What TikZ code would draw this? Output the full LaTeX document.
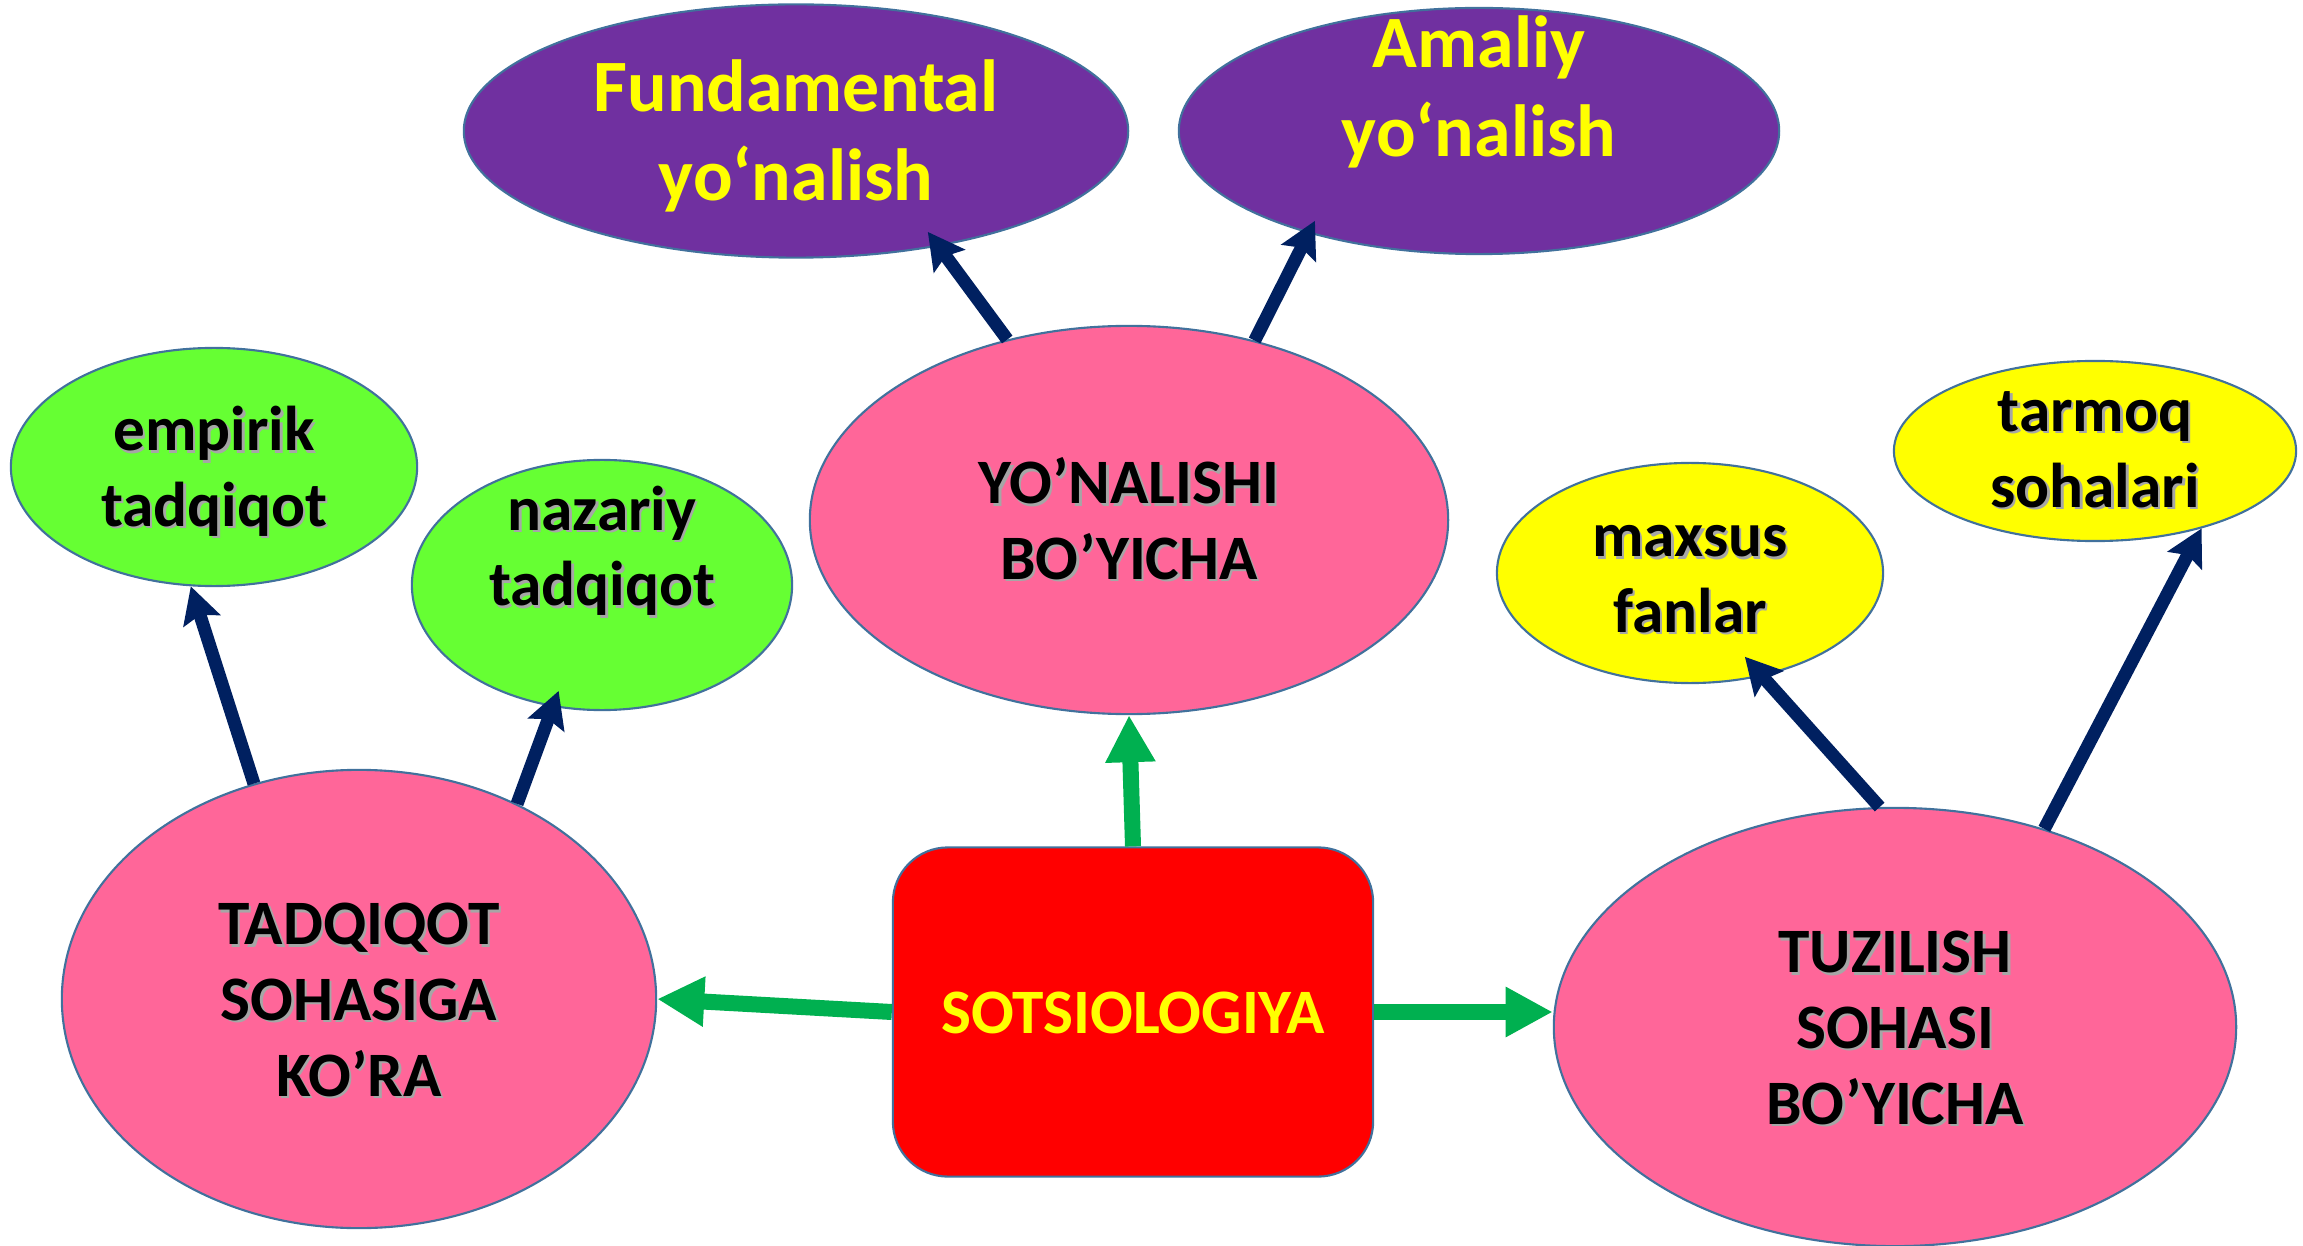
\documentclass[tikz,border=0pt]{standalone}
\usepackage{fontspec}
\setmainfont{Carlito}
\usetikzlibrary{arrows.meta,shapes.geometric}
\definecolor{figpink}{HTML}{FF6699}
\definecolor{figpurple}{HTML}{7030A0}
\definecolor{figlime}{HTML}{66FF33}
\definecolor{figyellow}{HTML}{FFFF00}
\definecolor{figred}{HTML}{FF0000}
\definecolor{figborder}{HTML}{41719C}
\definecolor{fignavy}{HTML}{002060}
\definecolor{figgreen}{HTML}{00B050}
\def\figborderwidth{0.6pt}
\def\figfont{\fontsize{18}{21.6}\selectfont\bfseries}
\def\figbigfont{\fontsize{21}{25.3}\selectfont\bfseries}
% full line box (ascent / descent) on the first and last line
\newcommand\figtop{\rule{0pt}{0.95em}}
\newcommand\figbot{\rule[-0.27em]{0pt}{0pt}}
% black text with a soft drop shadow
\newcommand\figshadow[1]{\leavevmode\rlap{\kern0.7pt\raisebox{-0.7pt}{\color{black!35}#1}}#1}

\begin{document}
\begin{tikzpicture}[
  x=0.01cm,y=-0.01cm,
  oval/.style={ellipse,draw=figborder,line width=\figborderwidth,inner sep=0pt,align=center,font=\figfont},
  topic/.style={oval,fill=figpink},
  purplebox/.style={oval,fill=figpurple,text=figyellow,font=\figbigfont},
  limebox/.style={oval,fill=figlime},
  yellowbox/.style={oval,fill=figyellow},
  navyarrow/.style={draw=fignavy,line width=0.13cm,-{Stealth[length=0.36cm,width=0.38cm,inset=0.06cm]}},
  greenarrow/.style={draw=figgreen,line width=0.16cm,-{Triangle[length=0.47cm,width=0.47cm]}},
]
\useasboundingbox (0,0) rectangle (2303,1246);

%%%%%%%%%%%%%%%
% Centre
%%%%%%%%%%%%%%%
\node (sots) [
  draw=figborder,line width=\figborderwidth,fill=figred,
  rounded corners=0.55cm,minimum width=4.8cm,minimum height=3.29cm,
  text=figyellow,font=\figfont
] at (1133,1012) {\figtop SOTSIOLOGIYA\figbot};

\node (yon) [topic,minimum width=6.38cm,minimum height=3.88cm] at (1129,520) {\figtop\figshadow{YO’NALISHI}\\\figshadow{BO’YICHA}\figbot};
\node (tad) [topic,minimum width=5.94cm,minimum height=4.58cm] at (359,999) {\figtop\figshadow{TADQIQOT}\\\figshadow{SOHASIGA}\\\figshadow{KO’RA}\figbot};
\node (tuz) [topic,minimum width=6.82cm,minimum height=4.38cm] at (1895,1027) {\figtop\figshadow{TUZILISH}\\\figshadow{SOHASI}\\\figshadow{BO’YICHA}\figbot};

%%%%%%%%%%%%%%%
% Top
%%%%%%%%%%%%%%%
\node (fund) [purplebox,minimum width=6.64cm,minimum height=2.5cm] at (796,131) {\figtop Fundamental\\yo‘nalish\figbot};
\node (amal) [
  purplebox,minimum width=6.0cm,minimum height=2.46cm,
  label={[font=\figbigfont,text=figyellow,align=center,yshift=0.44cm]center:{\figtop Amaliy\\yo‘nalish\figbot}} % text sits high in the oval
] at (1479,131) {};

%%%%%%%%%%%%%%%
% Left
%%%%%%%%%%%%%%%
\node (emp) [limebox,minimum width=4.06cm,minimum height=2.38cm] at (214,467) {\figtop\figshadow{empirik}\\\figshadow{tadqiqot}\figbot};
\node (naz) [
  limebox,minimum width=3.8cm,minimum height=2.5cm,
  label={[font=\figfont,align=center,yshift=0.385cm]center:{\figtop\figshadow{nazariy}\\\figshadow{tadqiqot}\figbot}}
] at (602,585) {};

%%%%%%%%%%%%%%%
% Right
%%%%%%%%%%%%%%%
\node (max) [yellowbox,minimum width=3.86cm,minimum height=2.2cm] at (1690,573) {\figtop\figshadow{maxsus}\\\figshadow{fanlar}\figbot};
\node (tar) [yellowbox,minimum width=4.02cm,minimum height=1.8cm] at (2095,451) {\figshadow{tarmoq}\\\figshadow{sohalari}}; % no struts: oval is too flat

%%%%%%%%%%%%%%%
% Arrows
%%%%%%%%%%%%%%%
\draw [navyarrow] (tad.116.8) -- (emp.259);
\draw [navyarrow,shorten >=-0.17cm] (tad.51.6) -- (naz.248.1);
\draw [navyarrow,shorten >=-0.18cm] (yon.124.5) -- (fund.321.5);
\draw [navyarrow,shorten >=-0.14cm] (yon.55) -- (amal.211.2);
\draw [navyarrow,shorten >=-0.26cm] (tuz.94.1) -- (max.305.5);
\draw [navyarrow] (tuz.53.8) -- (tar.324.8);

\draw [greenarrow] (sots.north) -- (yon.south);
\draw [greenarrow] (sots.west) -- (tad.east);
\draw [greenarrow] (sots.east) -- (sots.east -| tuz.west);

\end{tikzpicture}
\end{document}
